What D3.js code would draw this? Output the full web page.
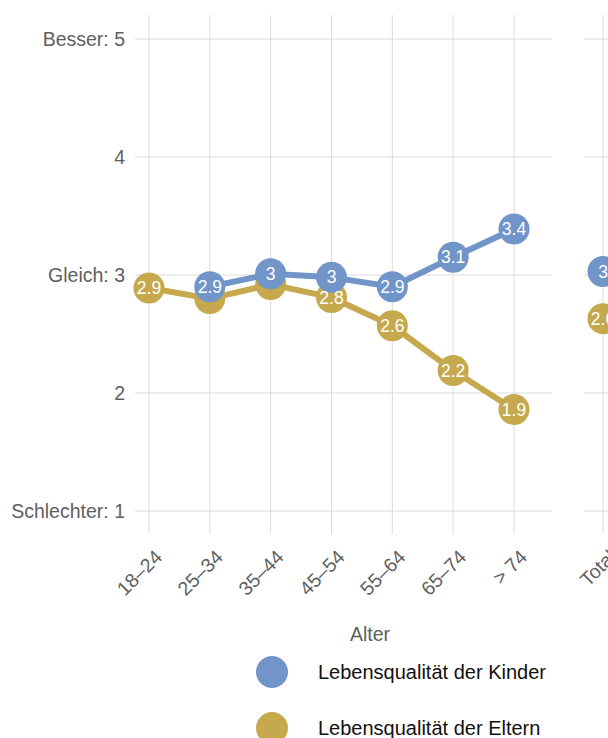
<!DOCTYPE html>
<html>
<head>
<meta charset="utf-8">
<script src="https://cdn.jsdelivr.net/npm/d3@7"></script>
<style>
  body { margin: 0; background: #fff; }
  svg { display: block; font-family: "Liberation Sans", Arial, Helvetica, sans-serif; }
</style>
</head>
<body>
<svg id="chart" width="608" height="738"></svg>
<script>
// age groups and the separate "Total" panel
const ages = ["18–24", "25–34", "35–44", "45–54", "55–64", "65–74", "> 74"];
const totalCat = ["Total"];

// mean ratings (1 = schlechter, 5 = besser); kids series has no 18–24 point
const kinder = [null, 2.90, 3.01, 2.98, 2.90, 3.15, 3.39];
const eltern = [2.89, 2.80, 2.92, 2.81, 2.57, 2.19, 1.86];
const kinderTotal = [3.03];
const elternTotal = [2.63];

const yTicks = [1, 2, 3, 4, 5];
const yTickLabels = ["Schlechter: 1", "2", "Gleich: 3", "4", "Besser: 5"];

const seriesNames = ["Lebensqualität der Kinder", "Lebensqualität der Eltern"];
const blue = "#7194c9";
const gold = "#c6a94c";
const grid = "#dcdcdc";
const axisText = "#606060";

const svg = d3.select("#chart");

const y = d3.scaleLinear().domain([1, 5]).range([511, 39]);
const x = d3.scalePoint().domain(ages).range([149, 514]);
const xT = d3.scalePoint().domain(totalCat).range([603, 603]);

const panels = [
  { scale: x, cats: ages, left: 135, right: 552, kids: kinder, parents: eltern },
  { scale: xT, cats: totalCat, left: 584, right: 640, kids: kinderTotal, parents: elternTotal }
];

// gridlines
panels.forEach(p => {
  svg.append("g").selectAll("line")
    .data(yTicks).join("line")
    .attr("x1", p.left).attr("x2", p.right)
    .attr("y1", d => y(d)).attr("y2", d => y(d))
    .attr("stroke", grid).attr("stroke-width", 1);
  svg.append("g").selectAll("line")
    .data(p.cats).join("line")
    .attr("x1", d => p.scale(d)).attr("x2", d => p.scale(d))
    .attr("y1", 15).attr("y2", 534)
    .attr("stroke", grid).attr("stroke-width", 1);
});

// y tick labels
svg.append("g").selectAll("text")
  .data(yTicks).join("text")
  .attr("x", 125).attr("y", d => y(d))
  .attr("dy", "0.35em")
  .attr("text-anchor", "end")
  .attr("font-size", 19.5)
  .attr("fill", axisText)
  .text((d, i) => yTickLabels[i]);

// x tick labels, rotated 45°
panels.forEach(p => {
  svg.append("g").selectAll("text")
    .data(p.cats).join("text")
    .attr("transform", d => `translate(${p.scale(d) + 4},${548}) rotate(-45)`)
    .attr("dy", "0.75em")
    .attr("text-anchor", "end")
    .attr("font-size", 19.5)
    .attr("fill", axisText)
    .text(d => d);
});

// series geometry
function pts(p, vals) {
  return p.cats.map((c, i) => ({ x: p.scale(c), v: vals[i] })).filter(d => d.v != null);
}
const line = d3.line().x(d => d.x).y(d => y(d.v));

const layers = [];
panels.forEach(p => {
  layers.push({ color: gold, data: pts(p, p.parents) });
  layers.push({ color: blue, data: pts(p, p.kids) });
});

// lines
layers.forEach(l => {
  svg.append("path")
    .datum(l.data)
    .attr("d", line)
    .attr("fill", "none")
    .attr("stroke", l.color)
    .attr("stroke-width", 6)
    .attr("stroke-linejoin", "round");
});

// points
layers.forEach(l => {
  svg.append("g").selectAll("circle")
    .data(l.data).join("circle")
    .attr("cx", d => d.x).attr("cy", d => y(d.v))
    .attr("r", 15.5)
    .attr("fill", l.color);
});

// labels: kids first, then parents, skipping any that collide (like check_overlap)
const placed = [];
const labelG = svg.append("g");
[blue, gold].forEach(col => {
  layers.filter(l => l.color === col).forEach(l => {
    l.data.forEach(d => {
      const cy = y(d.v);
      const hit = placed.some(q => Math.abs(q.x - d.x) < 20 && Math.abs(q.y - cy) < 15);
      if (hit) return;
      placed.push({ x: d.x, y: cy });
      labelG.append("text")
        .attr("x", d.x).attr("y", cy)
        .attr("dy", "0.35em")
        .attr("text-anchor", "middle")
        .attr("font-size", 17.5)
        .attr("fill", "#fff")
        .text(d3.format(".2~r")(+d.v.toFixed(1)));
    });
  });
});

// axis title
svg.append("text")
  .attr("x", 370).attr("y", 634)
  .attr("dy", "0.35em")
  .attr("text-anchor", "middle")
  .attr("font-size", 19.5)
  .attr("fill", axisText)
  .text("Alter");

// legend
const legend = svg.append("g").selectAll("g")
  .data(seriesNames).join("g")
  .attr("transform", (d, i) => `translate(272,${672 + i * 56})`);
legend.append("circle")
  .attr("r", 16)
  .attr("fill", (d, i) => i === 0 ? blue : gold);
legend.append("text")
  .attr("x", 46).attr("dy", "0.35em")
  .attr("font-size", 20)
  .attr("fill", "#111")
  .text(d => d);
</script>
</body>
</html>
